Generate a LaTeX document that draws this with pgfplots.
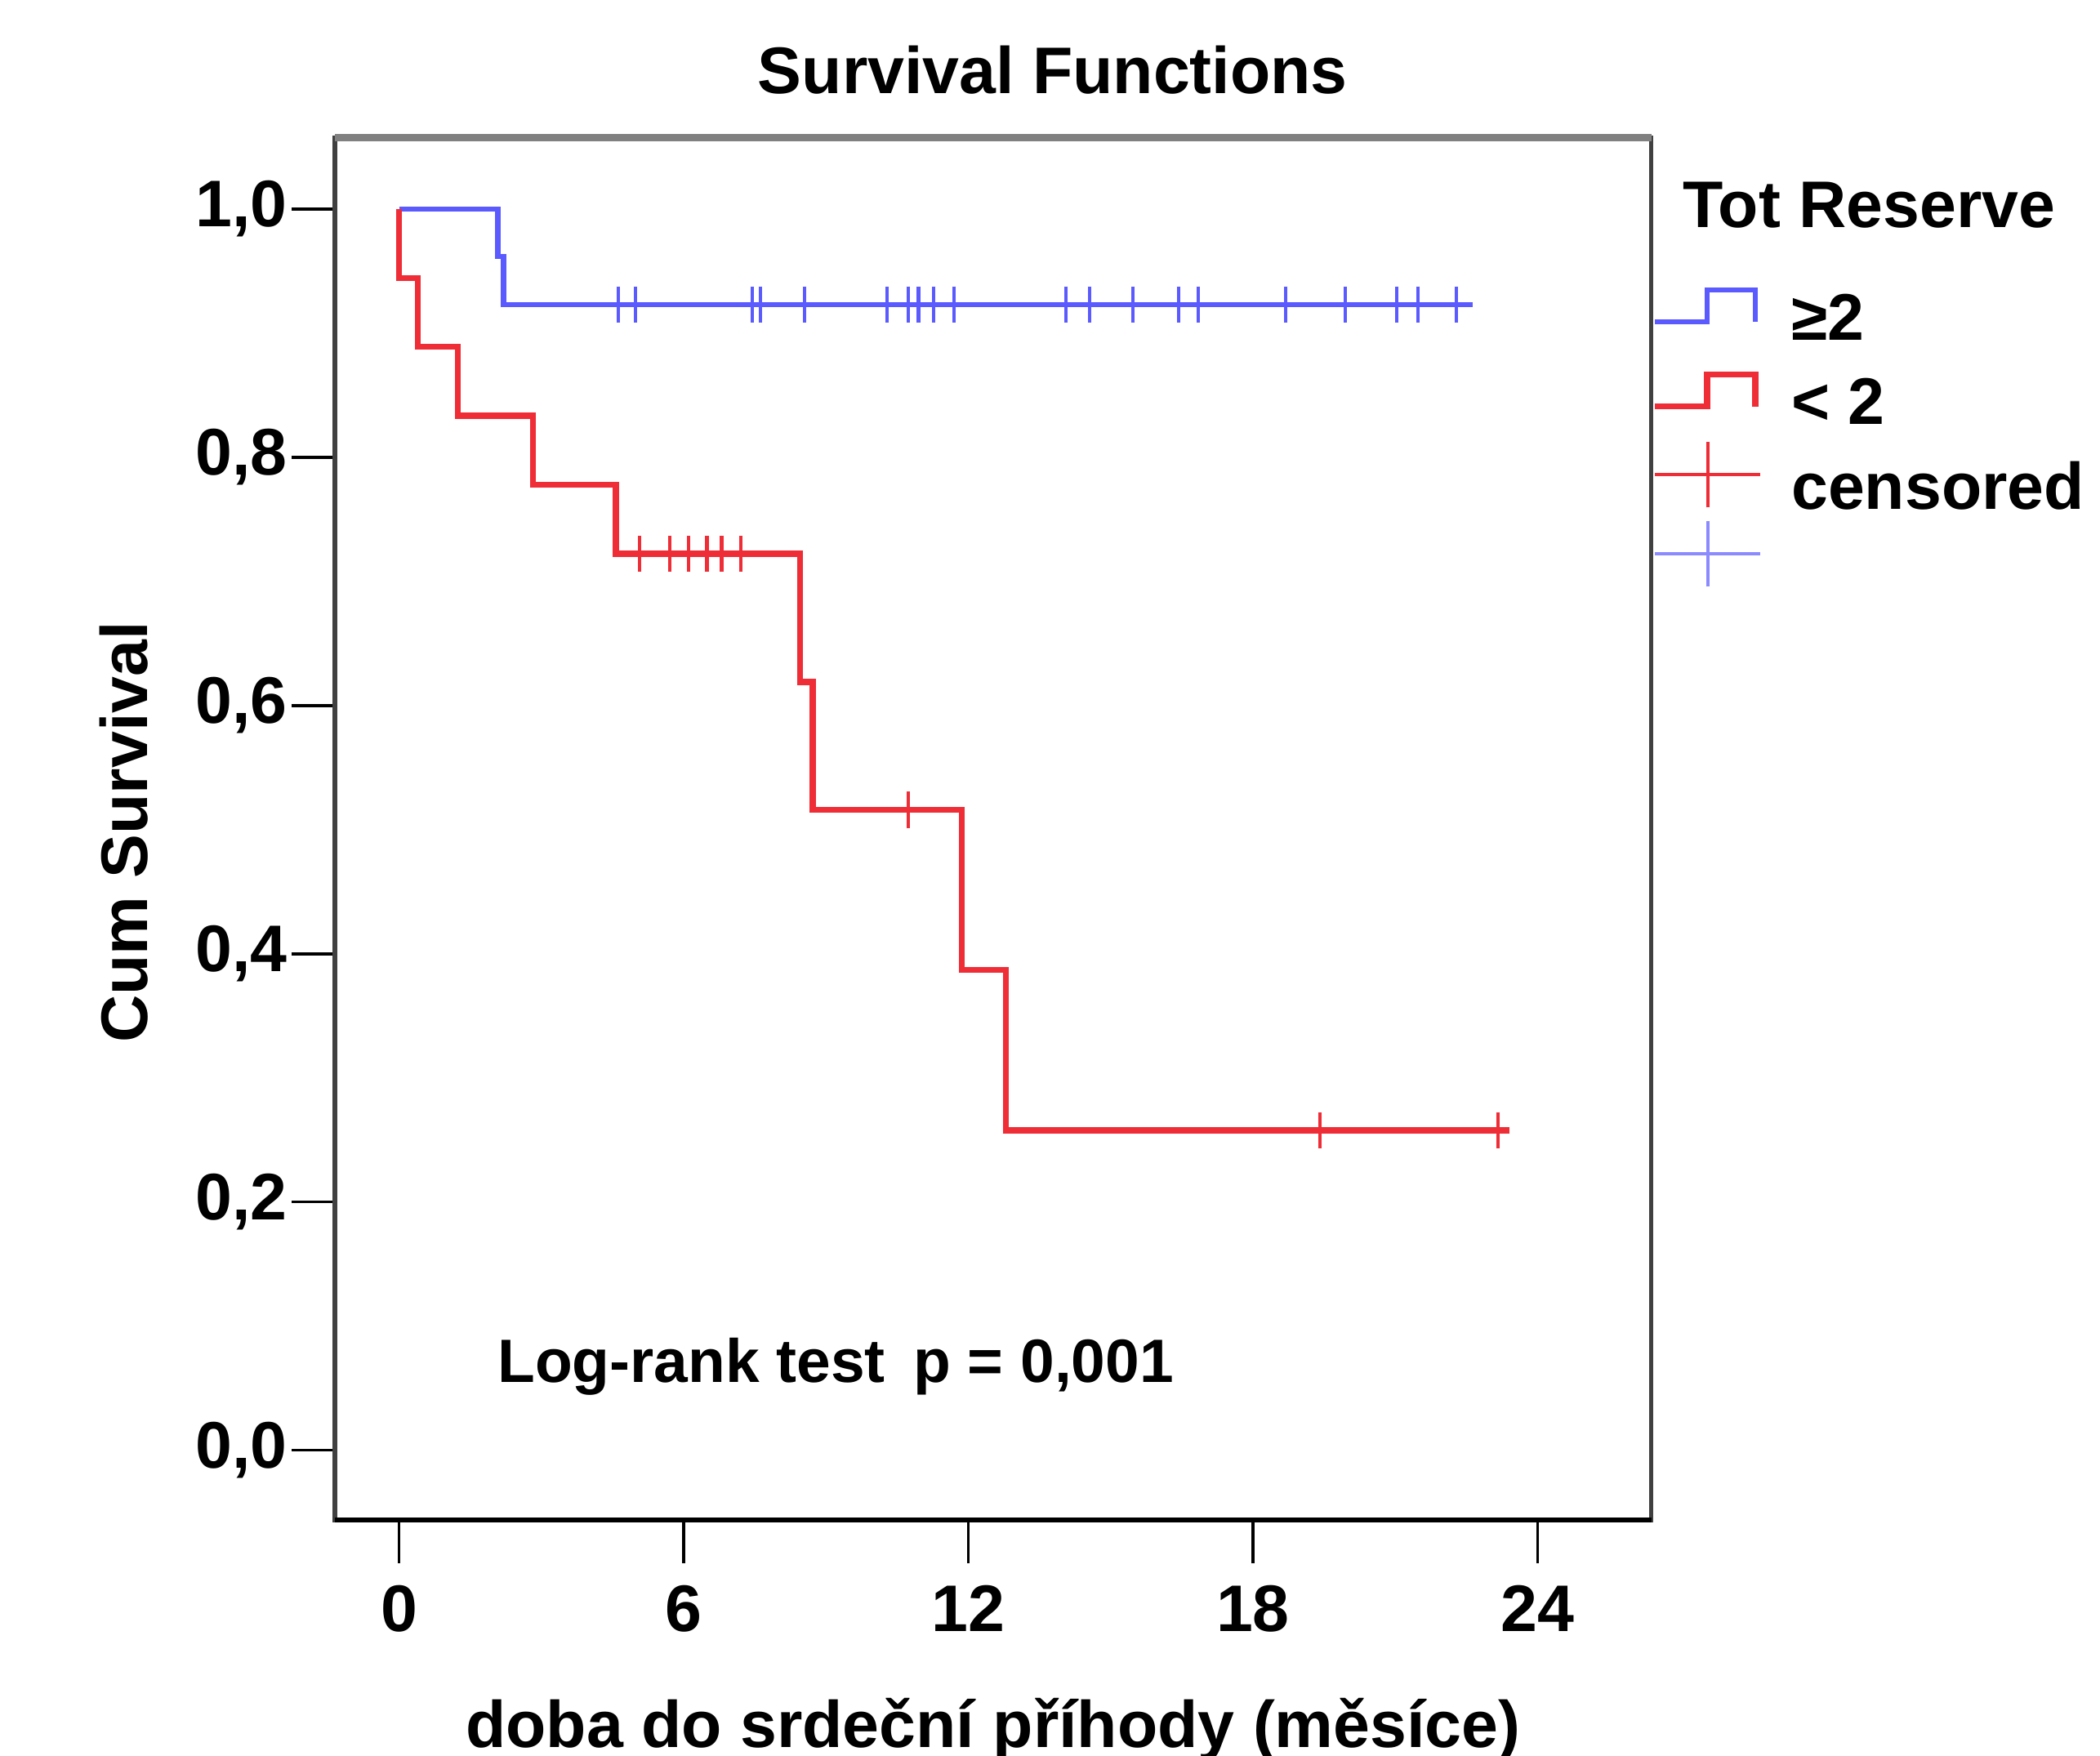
\documentclass[border=0pt]{standalone}
\usepackage{pgfplots}
\pgfplotsset{compat=1.18}
\usepackage{fontspec}
\setmainfont{Liberation Sans}
\definecolor{kmblue}{RGB}{90,90,255}
\definecolor{kmred}{RGB}{238,45,55}
\begin{document}
\fontsize{14}{17}\selectfont\bfseries
\begin{tikzpicture}
\begin{axis}[
  width=98.3mm, height=103.2mm, scale only axis,
  xmin=-1.355, xmax=26.4, ymin=-0.0561, ymax=1.0572,
  clip=false,
  axis line style={black!75, line width=0.9pt},
  xtick={0,6,12,18,24}, ytick={0,0.2,0.4,0.6,0.8,1.0},
  tick pos=left, tick align=outside, major tick length=3.2mm,
  tick style={black, line width=0.6pt},
  /pgf/number format/assume math mode=true,
  yticklabel style={/pgf/number format/.cd, fixed, fixed zerofill, precision=1, use comma, /tikz/.cd, inner xsep=0.3mm},
  title={Survival Functions},
  title style={at={(axis description cs:0.5453,1.0115)}, anchor=base, inner sep=0pt},
  xlabel={doba do srdeční příhody (měsíce)},
  xlabel style={at={(axis description cs:0.5,-0.1647)}, anchor=base, inner sep=0pt},
  ylabel={Cum Survival},
  ylabel style={at={(axis description cs:-0.1424,0.4976)}, anchor=base, inner sep=0pt},
  legend style={at={(axis description cs:1,0.8973)}, anchor=north west, xshift=0.26mm,
    draw=none, fill=none, inner sep=0pt, outer sep=0pt, row sep=0pt,
    nodes={inner sep=0pt, outer sep=0pt, text height=4.5mm, text depth=1.8mm}},
  legend cell align=left,
]
% >=2 group
\addplot[kmblue, line width=1.1pt, const plot, mark=none,
  legend image code/.code={
    \draw[overlay, kmblue, line width=1.1pt] (0mm,0mm) -- (3.9mm,0mm) -- (3.9mm,2.4mm) -- (7.5mm,2.4mm) -- (7.5mm,0mm);
    \path[draw=none, fill=none] (0mm,-1mm) rectangle (10.2mm,2mm);
  }] coordinates {
  (0,1) (2.08,0.9615) (2.20,0.9231) (22.64,0.9231)
};
\addlegendentry{≥2}
% <2 group
\addplot[kmred, line width=1.3pt, const plot, mark=none,
  legend image code/.code={
    \draw[overlay, kmred, line width=1.3pt] (0mm,0mm) -- (3.9mm,0mm) -- (3.9mm,2.4mm) -- (7.5mm,2.4mm) -- (7.5mm,0mm);
    \path[draw=none, fill=none] (0mm,-1mm) rectangle (10.2mm,2mm);
  }] coordinates {
  (0,1) (0.0,0.9444) (0.39,0.8889) (1.24,0.8333) (2.82,0.7778) (4.57,0.7222)
  (8.45,0.6190) (8.72,0.5159) (11.86,0.3869) (12.79,0.2579) (23.4,0.2579)
};
\addlegendentry{< 2}
% censored <2
\addplot[kmred, only marks, mark=|, mark size=1.35mm, mark options={line width=0.7pt},
  legend image code/.code={
    \draw[overlay, kmred, line width=0.7pt] (0mm,1.2mm) -- (7.85mm,1.2mm);
    \draw[overlay, kmred, line width=0.7pt] (3.95mm,-1.25mm) -- (3.95mm,3.65mm);
    \path[draw=none, fill=none] (0mm,-1mm) rectangle (10.2mm,2mm);
  }] coordinates {
  (5.07,0.7222) (5.70,0.7222) (6.10,0.7222) (6.49,0.7222) (6.80,0.7222) (7.20,0.7222)
  (10.74,0.5159) (19.41,0.2579) (23.16,0.2579)
};
\addlegendentry{censored}
% censored >=2
\addplot[kmblue, only marks, mark=|, mark size=1.35mm, mark options={line width=0.7pt},
  legend image code/.code={
    \draw[overlay, kmblue!70, line width=0.7pt] (0mm,1.6mm) -- (7.85mm,1.6mm);
    \draw[overlay, kmblue!70, line width=0.7pt] (3.95mm,-0.85mm) -- (3.95mm,4.05mm);
    \path[draw=none, fill=none] (0mm,-1mm) rectangle (10.2mm,2mm);
  }] coordinates {
  (4.63,0.9231) (4.98,0.9231) (7.44,0.9231) (7.61,0.9231) (8.54,0.9231)
  (10.29,0.9231) (10.74,0.9231) (10.95,0.9231) (11.27,0.9231) (11.70,0.9231)
  (14.05,0.9231) (14.56,0.9231) (15.47,0.9231) (16.44,0.9231) (16.84,0.9231)
  (18.69,0.9231) (19.95,0.9231) (21.04,0.9231) (21.48,0.9231) (22.29,0.9231)
};
\addlegendentry{}
\draw[black!50, line width=1.6pt] (rel axis cs:0,1) -- (rel axis cs:1,1);
\draw[black, line width=1.2pt] (rel axis cs:0,0) -- (rel axis cs:1,0);
\node[anchor=base west, inner sep=0pt] at (axis description cs:1.0234,0.9351) {Tot Reserve};
\node[anchor=base west, inner sep=0pt, font=\fontsize{13}{15}\selectfont\bfseries] at (axis cs:2.06,0.0545) {Log-rank test\hspace{0.46em}p = 0,001};
\end{axis}
\pgfresetboundingbox
\path[use as bounding box] (-25mm,-17.6mm) rectangle (131.8mm,113.5mm);
\end{tikzpicture}
\end{document}
